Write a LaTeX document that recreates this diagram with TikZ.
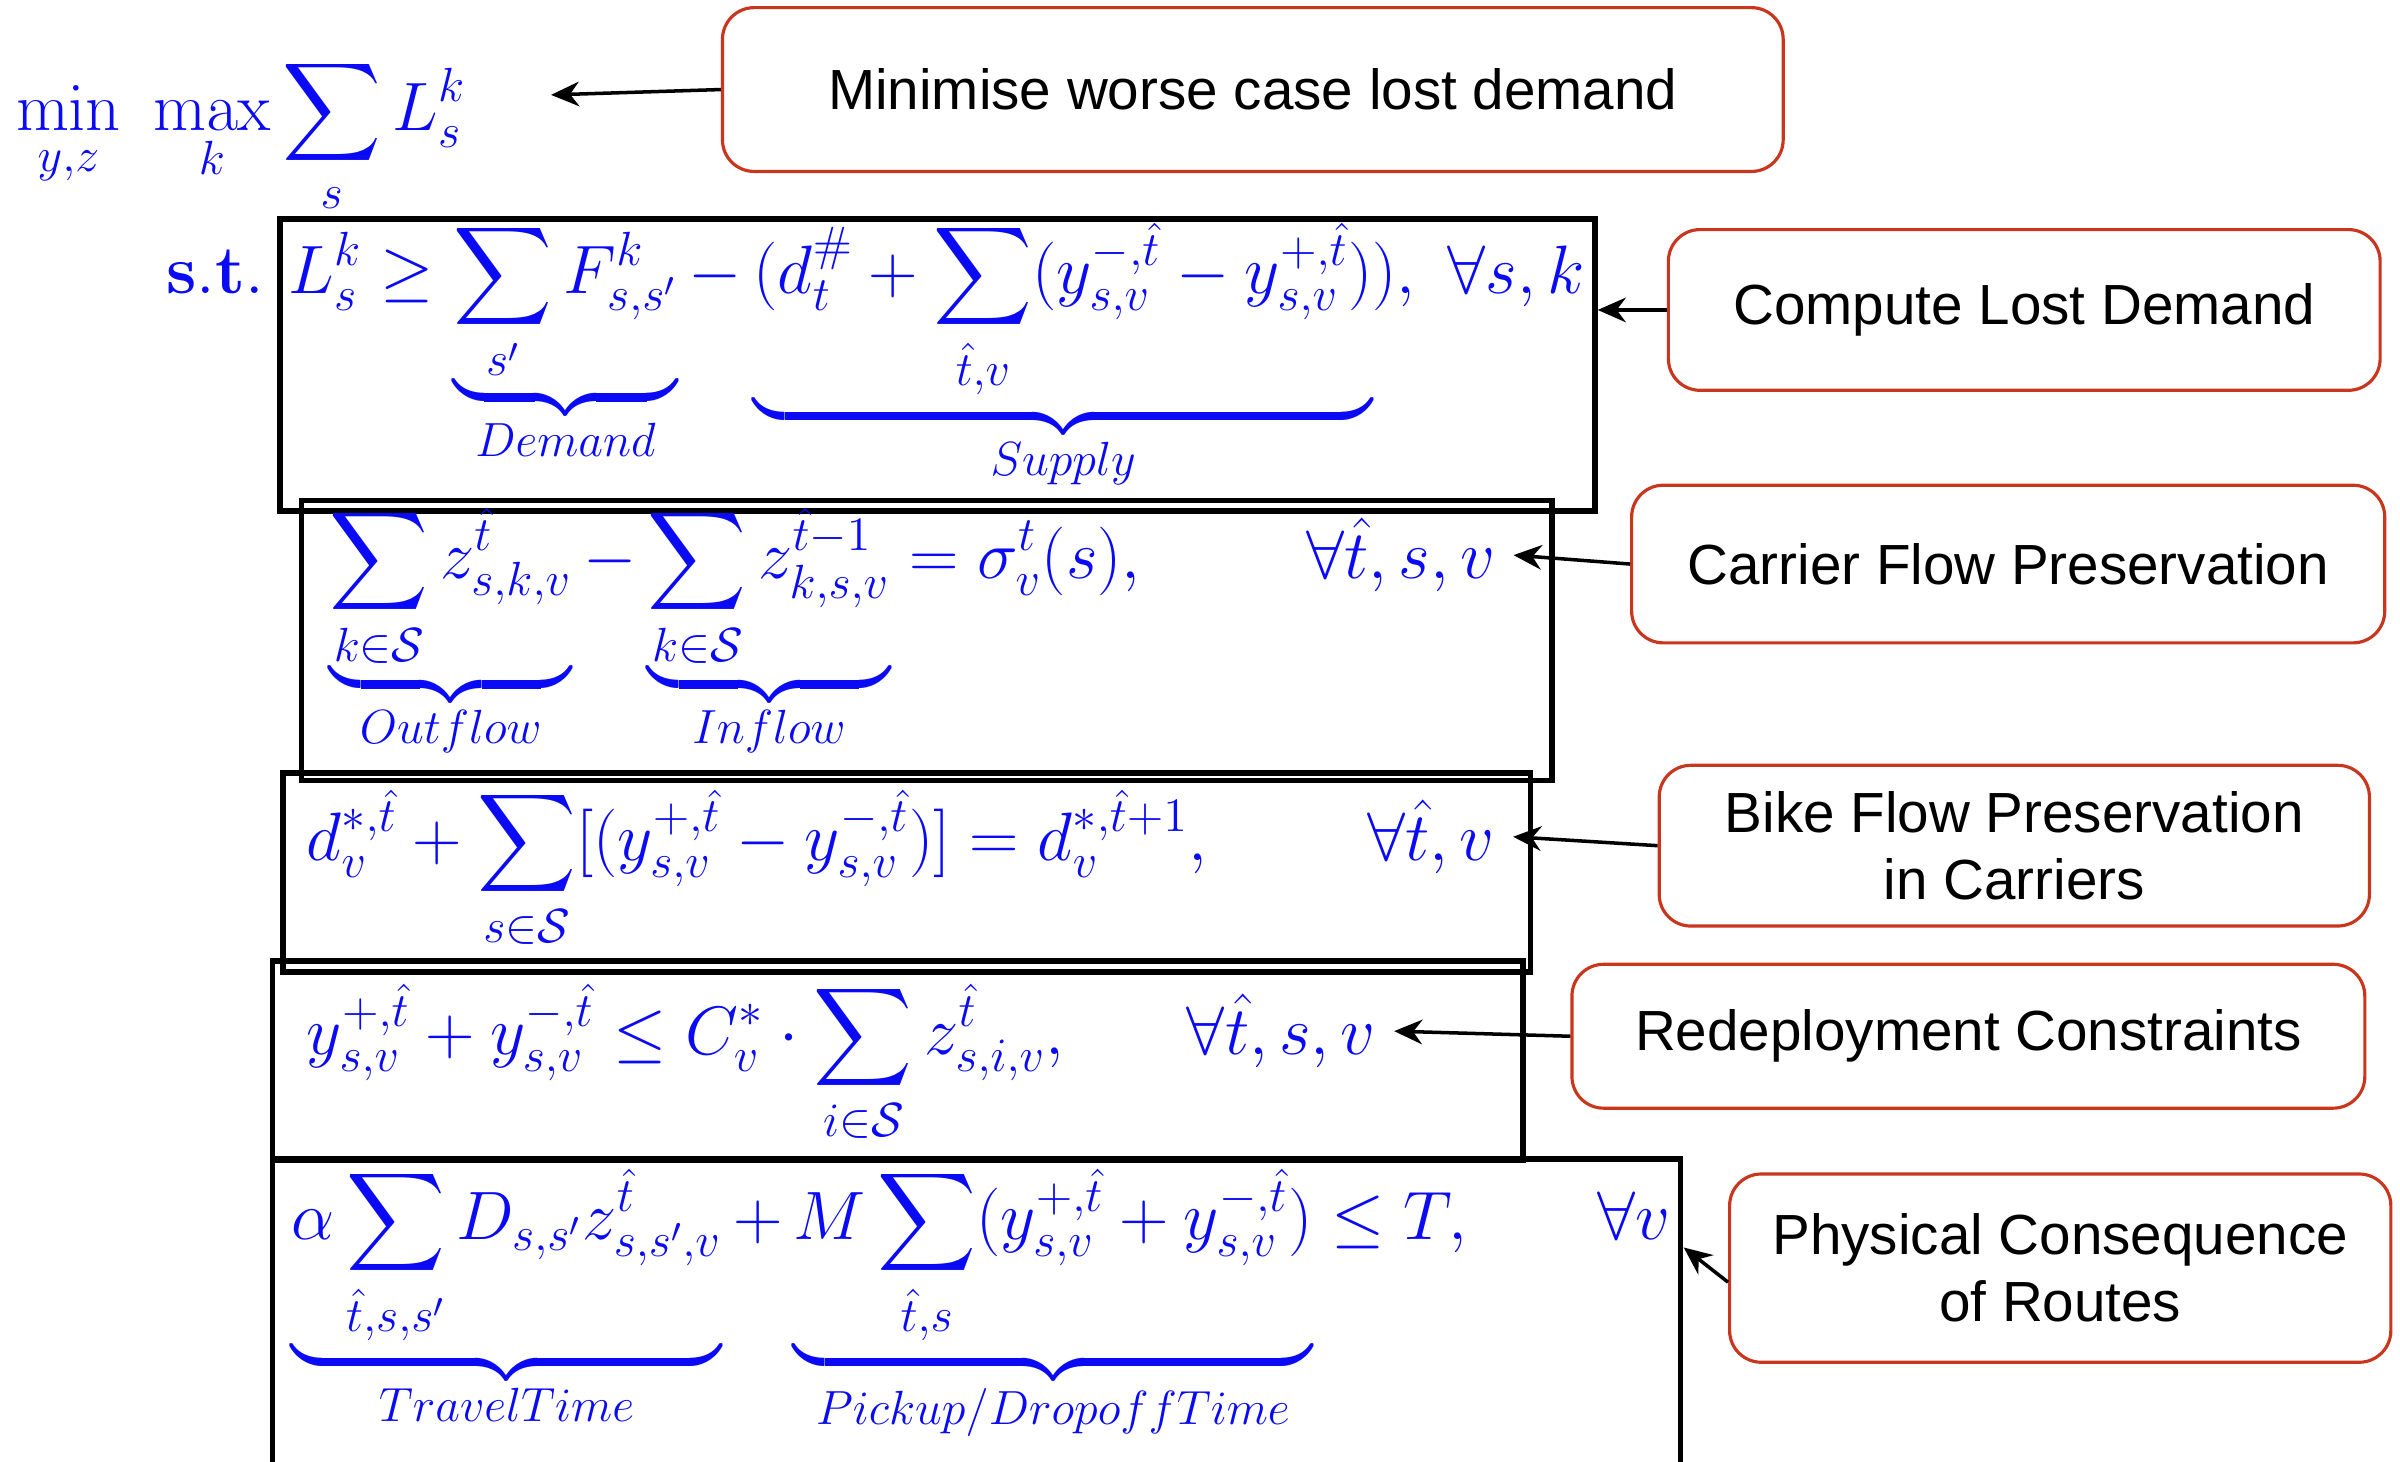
\RequirePackage{fix-cm}
\documentclass[tikz,border=0pt]{standalone}
\usepackage{amsmath,amssymb}
\usepackage[no-math]{fontspec}
\newfontfamily\notefont{Liberation Sans}
\usepackage{xcolor}
\definecolor{eqblue}{RGB}{10,10,245}
\definecolor{notered}{HTML}{C8361E}
\usetikzlibrary{arrows.meta,positioning,fit,calc}

\begin{document}
\begin{tikzpicture}[x=0.4355pt, y=-0.4355pt,
    eq/.style={text=eqblue, font=\fontsize{19.5}{23}\selectfont, anchor=base west, inner sep=0pt},
    eqbox/.style={draw=black, line width=1.6pt, inner sep=0pt},
    note/.style={draw=notered, line width=0.9pt, rounded corners=9pt, inner sep=0pt,
      align=center, font=\notefont\fontsize{16.1}{19}\selectfont},
    notesize/.style 2 args={minimum width=#1*0.4355pt, minimum height=#2*0.4355pt},
    pointer/.style={-{Stealth[length=8pt,width=7pt]}, line width=1pt}]
  \clip (0,0) rectangle (1568,955);

  % Objective
  \node[eq] (obj) at (10,85) {$\displaystyle\min_{y,z}\ \max_{k}\sum_{s} L^{k}_{s}$};
  \coordinate (objtip) at (360,62);
  \node[note, notesize={693}{107}] (minnote) at (818.5,58.5) {Minimise worse case lost demand};

  % Constraint boxes
  \node[eqbox, fit={(183,143) (1042,334)}] (boxA) {};
  \node[eqbox, fit={(197,327) (1014,510)}] (boxB) {};
  \node[eqbox, fit={(185,505) (1000,635)}] (boxC) {};
  \node[eqbox, fit={(178,628) (995,758)}] (boxD) {};
  \node[eqbox, fit={(178,757) (1098,975)}] (boxE) {};

  % Lost demand
  \node[eq] (st) at (108,192) {$\mathbf{s.t.}$};
  \node[eq] (eqA) at (188,192) {$\displaystyle L^{k}_{s} \geq \underbrace{\sum_{s'} F^{k}_{s,s'}}_{Demand}
    - \underbrace{(d^{\#}_{t} + \sum_{\hat{t},v}(y^{-,\hat{t}}_{s,v} - y^{+,\hat{t}}_{s,v})}_{Supply}),\ \forall s,k$};

  % Carrier flow
  \node[eq] (eqB) at (215,378) {$\displaystyle \underbrace{\sum_{k\in\mathcal{S}} z^{\hat{t}}_{s,k,v}}_{Outflow}
    - \underbrace{\sum_{k\in\mathcal{S}} z^{\hat{t}-1}_{k,s,v}}_{Inflow} = \sigma^{t}_{v}(s),$};
  \node[eq] (forallB) at (853,378) {$\forall\hat{t},s,v$};

  % Bike flow
  \node[eq] (eqC) at (200,562) {$\displaystyle d^{*,\hat{t}}_{v} + \sum_{s\in\mathcal{S}}[(y^{+,\hat{t}}_{s,v} - y^{-,\hat{t}}_{s,v})] = d^{*,\hat{t}+1}_{v},$};
  \node[eq] (forallC) at (893,562) {$\forall\hat{t},v$};

  % Redeployment
  \node[eq] (eqD) at (200,689) {$\displaystyle y^{+,\hat{t}}_{s,v} + y^{-,\hat{t}}_{s,v} \leq C^{*}_{v}\cdot\sum_{i\in\mathcal{S}} z^{\hat{t}}_{s,i,v},$};
  \node[eq] (forallD) at (775,689) {$\forall\hat{t},s,v$};

  % Routes
  \node[eq] (eqE) at (190,810) {$\displaystyle \underbrace{\alpha\sum_{\hat{t},s,s'} D_{s,s'} z^{\hat{t}}_{s,s',v}}_{TravelTime}
    + \underbrace{M\sum_{\hat{t},s}(y^{+,\hat{t}}_{s,v} + y^{-,\hat{t}}_{s,v})}_{Pickup/DropoffTime} \leq T,$};
  \node[eq] (forallE) at (1043,810) {$\forall v$};
  \coordinate (physTip) at (1100,815);

  % Notes
  \node[note, notesize={465}{105}] (lostnote) at (1322.5,202.5) {Compute Lost Demand};
  \node[note, notesize={492}{103}] (carriernote) at (1312,368.5) {Carrier Flow Preservation};
  \node[note, notesize={464}{105}] (bikenote) at (1316,552.5) {Bike Flow Preservation\\in Carriers};
  \node[note, notesize={518}{94}] (redeploynote) at (1286,677) {Redeployment Constraints};
  \node[note, notesize={432}{123}] (physnote) at (1346,828.5) {Physical Consequence\\of Routes};

  % Arrows
  \draw[pointer] (minnote.west) -- (objtip);
  \draw[pointer] (lostnote.west) -- (boxA.east |- lostnote.west);
  \foreach \from/\to in {carriernote/forallB, bikenote/forallC, redeploynote/forallD}
    \draw[pointer] (\from.west) -- ([xshift=5pt]\to.east);
  \draw[pointer] ([yshift=-4pt]physnote.west) -- (physTip);
\end{tikzpicture}
\end{document}
